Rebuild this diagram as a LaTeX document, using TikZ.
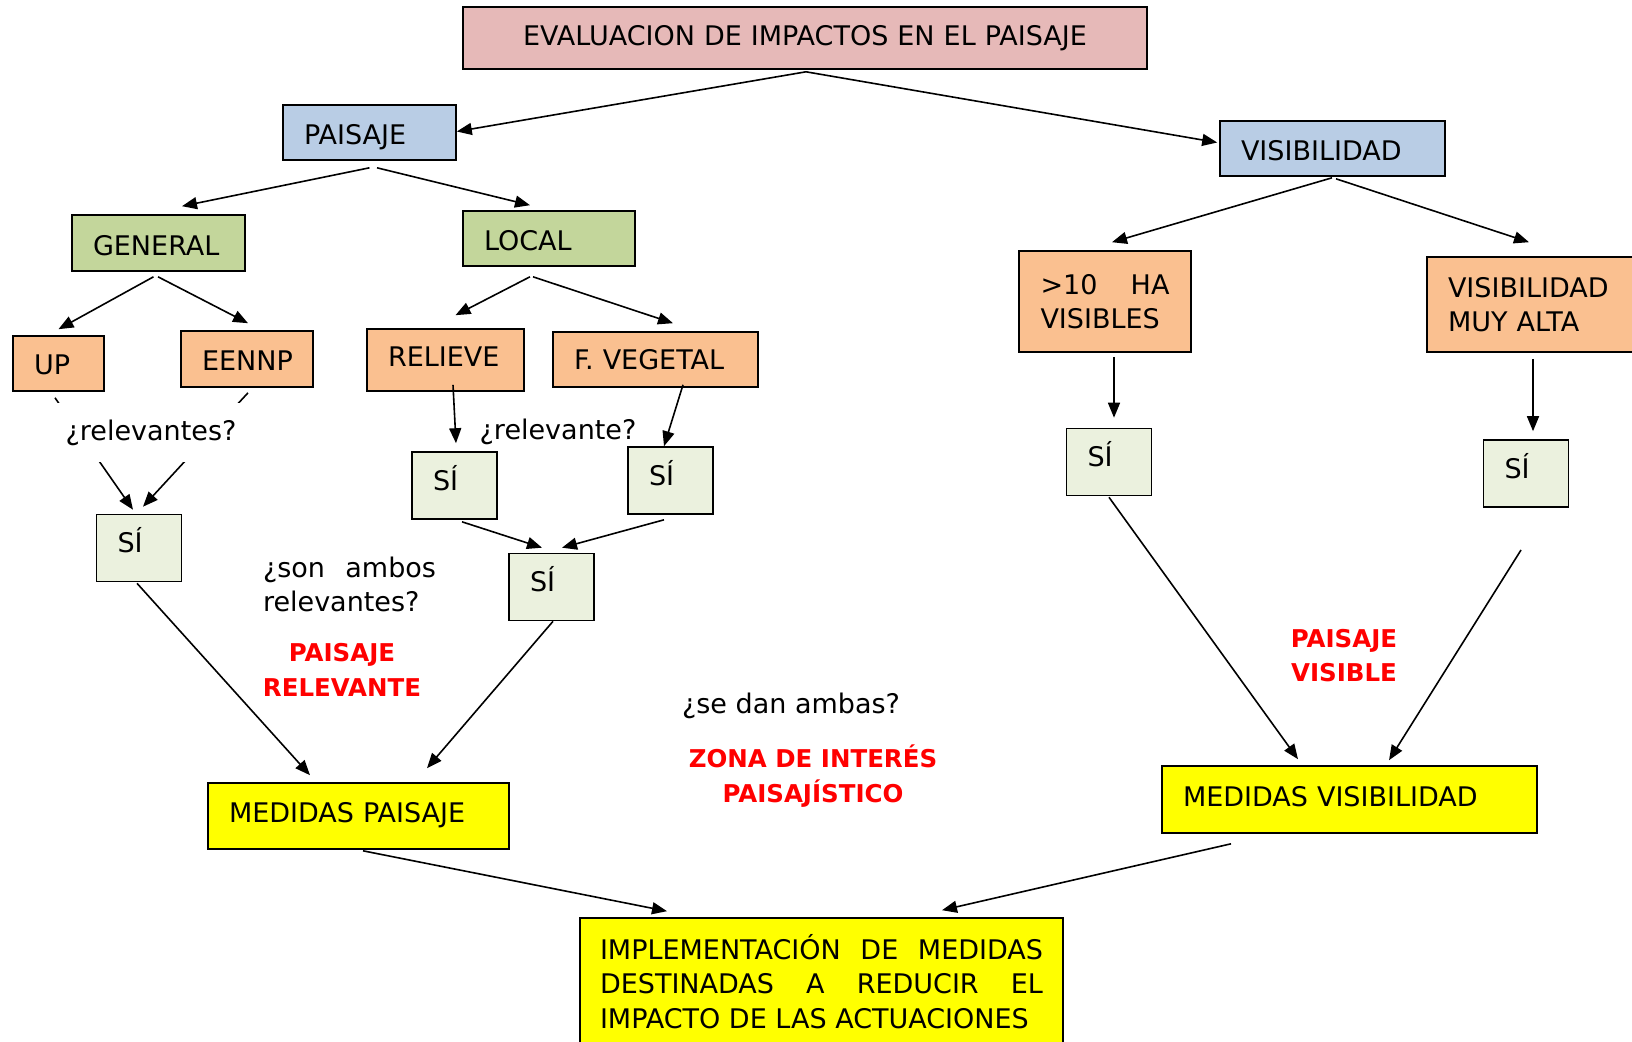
\documentclass[tikz,border=0pt]{standalone}
\usepackage{fontspec}
\setmainfont{DejaVu Sans}
\usetikzlibrary{arrows.meta,calc}
\definecolor{cpink}{HTML}{E6B9B8}
\definecolor{cblue}{HTML}{B9CDE5}
\definecolor{cgreen}{HTML}{C3D69B}
\definecolor{corange}{HTML}{FAC090}
\definecolor{clgreen}{HTML}{EBF1DE}
\definecolor{cyellow}{HTML}{FFFF00}
\definecolor{cred}{HTML}{FF0000}
\tikzset{
  bx/.style={draw=black, line width=1.6pt, rectangle, inner sep=0pt, align=left},
  sibox/.style={bx, fill=clgreen, minimum width=85pt, minimum height=67pt, text width=43pt, text height=25pt, text depth=16pt},
  arr/.style={-{Triangle[length=15pt,width=12pt]}, line width=1.6pt},
  txt/.style={inner sep=0pt, align=center},
  redtxt/.style={inner sep=0pt, align=center, text=cred, font=\bfseries\fontsize{24.5}{34.5}\selectfont},
}
\begin{document}
\begin{tikzpicture}[x=1pt,y=-1pt,font=\fontsize{27}{34.5}\selectfont]
\useasboundingbox (0,0) rectangle (1632,1041);
\clip (0,0) rectangle (1632,1041);
\fill[white] (0,0) rectangle (1632,1041);

\node[bx, fill=cpink, minimum width=684pt, minimum height=62pt, text width=640pt, align=center] (title) at (805,38) {EVALUACION DE IMPACTOS EN EL PAISAJE};
\node[bx, fill=cblue, minimum width=173pt, minimum height=55pt, text width=131pt, text height=23pt, text depth=0pt] (paisaje) at (369.5,132.5) {PAISAJE};
\node[bx, fill=cblue, minimum width=225pt, minimum height=55pt, text width=183pt, text height=23.5pt, text depth=0pt] (visib) at (1332.5,148.5) {VISIBILIDAD};
\node[bx, fill=cgreen, minimum width=173pt, minimum height=56pt, text width=131pt, text height=25pt, text depth=0pt] (general) at (158.5,243) {GENERAL};
\node[bx, fill=cgreen, minimum width=172pt, minimum height=55pt, text width=130pt, text height=23.5pt, text depth=0pt] (local) at (549,238.5) {LOCAL};
\node[bx, fill=corange, minimum width=91pt, minimum height=55pt, text width=49pt, text height=21.5pt, text depth=0pt] (up) at (58.5,363.5) {UP};
\node[bx, fill=corange, minimum width=132pt, minimum height=56pt, text width=90pt, text height=23.5pt, text depth=0pt] (eennp) at (247,359) {EENNP};
\node[bx, fill=corange, minimum width=157pt, minimum height=62pt, text width=115pt, text height=19pt, text depth=6pt] (relieve) at (445.5,360) {RELIEVE};
\node[bx, fill=corange, minimum width=205pt, minimum height=55pt, text width=163pt] (fveg) at (655.5,359.5) {F. VEGETAL};
\node[bx, fill=corange, minimum width=172pt, minimum height=101pt, text width=129pt, align=justify] (ha) at (1105,301.5) {>10 HA\linebreak VISIBLES};
\node[bx, fill=corange, minimum width=218pt, minimum height=95pt, text width=176pt] (muy) at (1536,304.5) {VISIBILIDAD\\MUY ALTA};

\node[sibox] (si1) at (139,548) {SÍ};
\node[sibox] (si2) at (454.5,485.5) {SÍ};
\node[sibox] (si3) at (670.5,480.5) {SÍ};
\node[sibox] (si4) at (551.5,587) {SÍ};
\node[sibox] (si5) at (1109,462) {SÍ};
\node[sibox] (si6) at (1526,473.5) {SÍ};

\node[bx, fill=cyellow, minimum width=301pt, minimum height=66pt, text width=259pt, text height=19pt, text depth=6pt] (medp) at (358.5,816) {MEDIDAS PAISAJE};
\node[bx, fill=cyellow, minimum width=375pt, minimum height=67pt, text width=333pt, text height=19pt, text depth=6pt] (medv) at (1349.5,799.5) {MEDIDAS VISIBILIDAD};
\node[bx, fill=cyellow, minimum width=483pt, minimum height=127pt, text width=443pt, align=justify] (impl) at (821.5,981.5) {IMPLEMENTACIÓN DE MEDIDAS\linebreak DESTINADAS A REDUCIR EL\linebreak IMPACTO DE LAS ACTUACIONES};

\node[txt] (q2) at (558,432) {¿relevante?};
\node[txt, text width=173pt, align=justify] (q3) at (349.5,584.5) {¿son ambos\linebreak relevantes?};
\node[redtxt] (r1) at (342,670) {PAISAJE\\RELEVANTE};
\node[txt] (q4) at (791,706) {¿se dan ambas?};
\node[redtxt] (r2) at (813,776) {ZONA DE INTERÉS\\PAISAJÍSTICO};
\node[redtxt] (r3) at (1344,655.5) {PAISAJE\\VISIBLE};

\coordinate (free) at (1521,550);

\draw[arr] ($(title.south)+(1,2)$) -- ($(paisaje.east)+(0,-1)$);
\draw[arr] ($(title.south)+(1,2)$) -- ($(visib.west)+(-2,-6)$);
\draw[arr] ($(paisaje.south)+(0,7)$) -- ($(general.north)+(23.5,-8)$);
\draw[arr] ($(paisaje.south)+(7.5,7)$) -- ($(local.north)+(-19,-5)$);
\draw[arr] ($(general.south)+(-5,5)$) -- ($(up.north)+(0,-6)$);
\draw[arr] ($(general.south)+(-0.5,5)$) -- ($(eennp.north)+(1,-7)$);
\draw[arr] ($(local.south)+(-19,10)$) -- ($(relieve.north)+(10,-13)$);
\draw[arr] ($(local.south)+(-16,10)$) -- ($(fveg.north)+(17.5,-8)$);
\draw[arr] ($(relieve.south)+(7.5,-7)$) -- ($(si2.north)+(1.5,-8)$);
\draw[arr] ($(fveg.south)+(27.5,-3)$) -- ($(si3.north)+(-6.5,0)$);
\draw[arr] ($(si2.south)+(7.5,2)$) -- ($(si4.north)+(-9.5,-5)$);
\draw[arr] ($(si3.south)+(-6.5,5)$) -- ($(si4.north)+(10.5,-5)$);
\draw[arr] ($(up.south)+(-3.5,6)$) -- ($(si1.north)+(-6,-4)$);
\draw[arr] ($(eennp.south)+(1,5)$) -- ($(si1.north)+(4,-7)$);
\draw[arr] ($(si1.south)+(-2,1)$) -- ($(medp.north)+(-48.5,-7)$);
\draw[arr] ($(si4.south)+(1.5,0)$) -- ($(medp.north)+(68.5,-14)$);
\draw[arr] ($(visib.south)+(-0.5,1)$) -- ($(ha.north)+(7,-8)$);
\draw[arr] ($(visib.south)+(3.5,2)$) -- ($(muy.north)+(-7,-14)$);
\draw[arr] ($(ha.south)+(9,4)$) -- ($(si5.north)+(5,-10)$);
\draw[arr] ($(muy.south)+(-3,6)$) -- ($(si6.north)+(7,-8)$);
\draw[arr] ($(si5.south)+(0,1)$) -- ($(medv.north)+(-51.5,-6)$);
\draw[arr] (free) -- ($(medv.north)+(39.5,-5)$);
\draw[arr] ($(medp.south)+(4.5,1)$) -- ($(impl.north)+(-154.5,-6)$);
\draw[arr] ($(medv.south)+(-118.5,10)$) -- ($(impl.north)+(120.5,-7)$);

\node[txt, fill=white, minimum width=190pt, minimum height=59pt] (q1) at (151,432.5) {¿relevantes?};
\end{tikzpicture}
\end{document}
